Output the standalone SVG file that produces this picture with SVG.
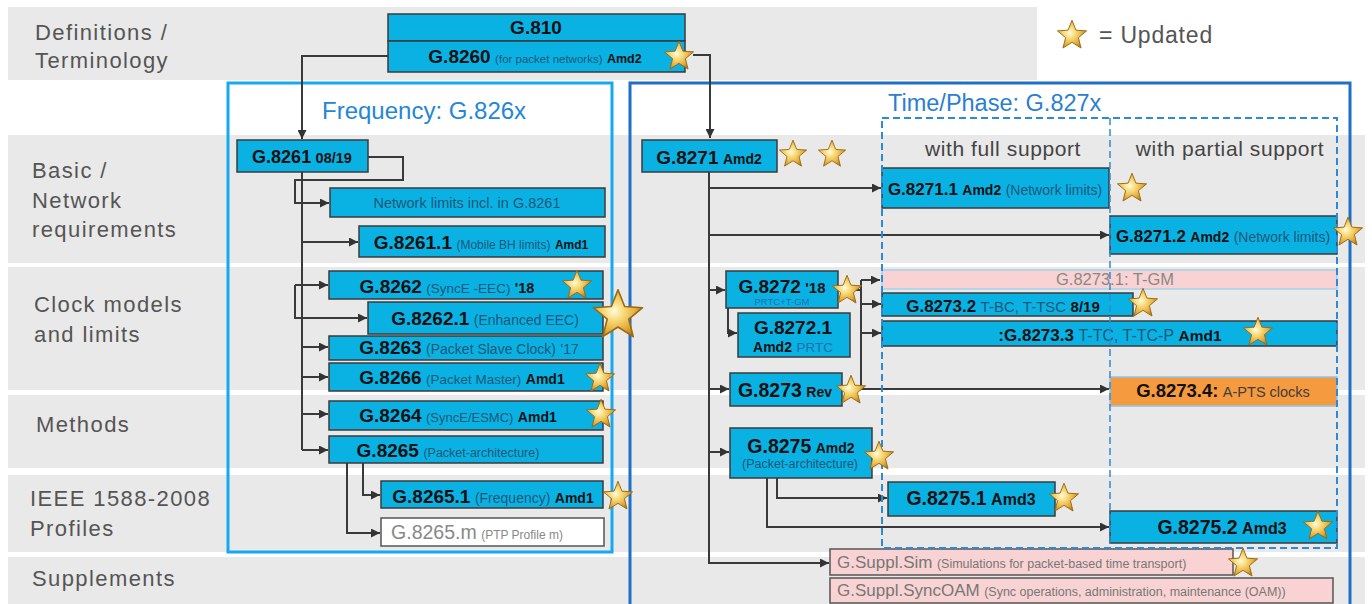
<svg xmlns="http://www.w3.org/2000/svg" width="1372" height="604" viewBox="0 0 1372 604">
  <defs>
    <radialGradient id="gold" cx="42%" cy="45%" r="60%">
      <stop offset="0" stop-color="#fffbe0"/>
      <stop offset="0.35" stop-color="#f8d977"/>
      <stop offset="0.75" stop-color="#e3a937"/>
      <stop offset="1" stop-color="#b07a17"/>
    </radialGradient>
    <symbol id="star" viewBox="-50 -50 100 100" overflow="visible">
      <path transform="translate(0,5)" d="M0,-48 L12.3,-17 L45.6,-14.8 L20,6.5 L28.2,38.8 L0,21 L-28.2,38.8 L-20,6.5 L-45.6,-14.8 L-12.3,-17 Z" fill="url(#gold)" stroke="#9a6a12" stroke-width="3" stroke-linejoin="round"/>
    </symbol>
    <marker id="ah" viewBox="0 0 10 10" refX="10" refY="5" markerWidth="10" markerHeight="9" markerUnits="userSpaceOnUse" orient="auto">
      <path d="M0,0 L10,5 L0,10 z" fill="#333"/>
    </marker>
  </defs>
  <style>
    .band{fill:#e9e9e9}
    .lbl{font-family:"Liberation Sans",Arial,sans-serif;font-size:22px;fill:#555;letter-spacing:1.4px}
    .n{fill:#0ab1e3;stroke:#3b3b3b;stroke-width:1.5}
    .pk{fill:#f9d3d3;stroke:#555;stroke-width:1.5}
    .t{font-family:"Liberation Sans",Arial,sans-serif;fill:#111;text-anchor:middle}
    .ts{font-family:"Liberation Sans",Arial,sans-serif;fill:#777}
    .b{font-weight:bold}
    .p{fill:#1d5878}
    .g{fill:#888}
    .bl{fill:#1f6fb0}
    .c{fill:none;stroke:#3a3a3a;stroke-width:2}
    .a{marker-end:url(#ah)}
    .dash{fill:none;stroke:#2f8ad6;stroke-width:2;stroke-dasharray:7 4}
  </style>

  <rect width="1372" height="604" fill="#fff"/>

  <!-- row bands -->
  <g id="rows">
    <rect class="band" x="8" y="7" width="1029" height="73"/>
    <rect class="band" x="8" y="135" width="1357" height="128"/>
    <rect class="band" x="8" y="267" width="1357" height="123"/>
    <rect class="band" x="8" y="395" width="1357" height="73"/>
    <rect class="band" x="8" y="475" width="1357" height="77"/>
    <rect class="band" x="8" y="557" width="1357" height="47"/>
    <text class="lbl" x="35" y="40">Definitions /</text>
    <text class="lbl" x="35" y="68">Terminology</text>
    <text class="lbl" x="32" y="178">Basic /</text>
    <text class="lbl" x="32" y="208">Network</text>
    <text class="lbl" x="32" y="237">requirements</text>
    <text class="lbl" x="34" y="312">Clock models</text>
    <text class="lbl" x="34" y="342">and limits</text>
    <text class="lbl" x="36" y="432">Methods</text>
    <text class="lbl" x="30" y="506">IEEE 1588-2008</text>
    <text class="lbl" x="30" y="536">Profiles</text>
    <text class="lbl" x="32" y="586">Supplements</text>
  </g>

  <!-- legend -->
  <g id="legend">
    <text class="lbl" x="1099" y="43" style="font-size:23px;letter-spacing:0.8px">= Updated</text>
  </g>

  <!-- section frames -->
  <g id="frequency-frame">
    <rect x="228" y="83" width="384" height="469" fill="none" stroke="#16a9ef" stroke-width="3"/>
    <text x="322" y="119" font-family="Liberation Sans, Arial, sans-serif" font-size="24" fill="#2586d6">Frequency: G.826x</text>
  </g>
  <g id="time-frame">
    <rect x="630" y="83" width="720" height="540" fill="none" stroke="#1f6fc8" stroke-width="3"/>
    <text x="888" y="111" font-family="Liberation Sans, Arial, sans-serif" font-size="23.5" fill="#2a7fd0">Time/Phase: G.827x</text>
    <text x="1003" y="156" font-family="Liberation Sans, Arial, sans-serif" font-size="21" fill="#444" text-anchor="middle" letter-spacing="0.6">with full support</text>
    <text x="1230" y="156" font-family="Liberation Sans, Arial, sans-serif" font-size="21" fill="#444" text-anchor="middle" letter-spacing="0.6">with partial support</text>
  </g>

  <!-- connectors -->
  <g id="connectors">
    <path class="c a" d="M388,56 H302 V139"/>
    <path class="c a" d="M693,55 H710 V138"/>
    <!-- frequency tree -->
    <path class="c" d="M302,172 V450"/>
    <path class="c a" d="M368,157 H403 V180 H295 V203 H329"/>
    <path class="c a" d="M302,242 H358"/>
    <path class="c a" d="M295,285 H328"/>
    <path class="c a" d="M295,285 V318 H367"/>
    <path class="c a" d="M302,347 H328"/>
    <path class="c a" d="M302,377 H328"/>
    <path class="c a" d="M302,414 H328"/>
    <path class="c a" d="M302,450 H328"/>
    <path class="c a" d="M363,463 V495 H380"/>
    <path class="c a" d="M347,463 V533 H380"/>
    <!-- time/phase tree -->
    <path class="c a" d="M709,172 V563 H829"/>
    <path class="c a" d="M709,188 H881"/>
    <path class="c a" d="M709,235 H1109"/>
    <path class="c a" d="M709,290 H725"/>
    <path class="c a" d="M709,389 H729"/>
    <path class="c a" d="M709,452 H729"/>
    <path class="c a" d="M728,308 V333 H737"/>
    <path class="c" d="M838,290 H861 M861,280 V389"/>
    <path class="c a" d="M861,280 H880"/>
    <path class="c a" d="M861,304 H881"/>
    <path class="c a" d="M861,333 H881"/>
    <path class="c a" d="M843,389 H1109"/>
    <path class="c a" d="M777,478 V498 H887"/>
    <path class="c a" d="M767,478 V527 H1109"/>
  </g>

  <!-- definitions -->
  <g id="n-g810">
    <rect class="n" x="388" y="14" width="297" height="27"/>
    <text class="t b" x="536" y="34" font-size="19">G.810</text>
  </g>
  <g id="n-g8260">
    <rect class="n" x="388" y="41" width="297" height="31"/>
    <text class="t" x="535" y="63"><tspan class="b" font-size="19">G.8260</tspan> <tspan class="p" font-size="11.5">(for packet networks)</tspan> <tspan class="b" font-size="12.5">Amd2</tspan></text>
  </g>

  <!-- frequency nodes -->
  <g id="n-g8261">
    <rect class="n" x="237" y="140" width="131" height="32"/>
    <text class="t" x="302" y="163"><tspan class="b" font-size="18">G.8261</tspan> <tspan class="b" font-size="14.5">08/19</tspan></text>
  </g>
  <g id="n-netlimits">
    <rect class="n" x="330" y="188" width="275" height="29"/>
    <text class="t p" x="467" y="208" font-size="14.5">Network limits incl. in G.8261</text>
  </g>
  <g id="n-g8261-1">
    <rect class="n" x="359" y="226" width="246" height="31"/>
    <text class="t" x="481" y="249"><tspan class="b" font-size="19">G.8261.1</tspan> <tspan class="p" font-size="12">(Mobile BH limits)</tspan> <tspan class="b" font-size="12">Amd1</tspan></text>
  </g>
  <g id="n-g8262">
    <rect class="n" x="329" y="271" width="274" height="28"/>
    <text class="t" x="447" y="293"><tspan class="b" font-size="19">G.8262</tspan> <tspan class="p" font-size="13.5">(SyncE -EEC)</tspan> <tspan class="b" font-size="14.5">'18</tspan></text>
  </g>
  <g id="n-g8262-1">
    <rect class="n" x="368" y="302" width="235" height="32"/>
    <text class="t" x="485" y="325"><tspan class="b" font-size="19">G.8262.1</tspan> <tspan class="p" font-size="14">(Enhanced EEC)</tspan></text>
  </g>
  <g id="n-g8263">
    <rect class="n" x="329" y="336" width="274" height="24"/>
    <text class="t" x="469" y="354"><tspan class="b" font-size="19">G.8263</tspan> <tspan class="p" font-size="14">(Packet Slave Clock)</tspan> <tspan class="p" font-size="14">'17</tspan></text>
  </g>
  <g id="n-g8266">
    <rect class="n" x="329" y="363" width="274" height="28"/>
    <text class="t" x="462" y="384"><tspan class="b" font-size="19">G.8266</tspan> <tspan class="p" font-size="13.5">(Packet Master)</tspan> <tspan class="b" font-size="14">Amd1</tspan></text>
  </g>
  <g id="n-g8264">
    <rect class="n" x="329" y="401" width="274" height="29"/>
    <text class="t" x="458" y="422"><tspan class="b" font-size="19">G.8264</tspan> <tspan class="p" font-size="13">(SyncE/ESMC)</tspan> <tspan class="b" font-size="14">Amd1</tspan></text>
  </g>
  <g id="n-g8265">
    <rect class="n" x="329" y="436" width="274" height="27"/>
    <text class="t" x="448" y="457"><tspan class="b" font-size="19">G.8265</tspan> <tspan class="p" font-size="12.5">(Packet-architecture)</tspan></text>
  </g>
  <g id="n-g8265-1">
    <rect class="n" x="381" y="481" width="222" height="27"/>
    <text class="t" x="493" y="503"><tspan class="b" font-size="19">G.8265.1</tspan> <tspan class="p" font-size="14">(Frequency)</tspan> <tspan class="b" font-size="14">Amd1</tspan></text>
  </g>
  <g id="n-g8265-m">
    <rect x="381" y="518" width="223" height="28" fill="#fff" stroke="#555" stroke-width="1.5"/>
    <text class="t g" x="477" y="539"><tspan font-size="19.5">G.8265.m</tspan> <tspan font-size="12">(PTP Profile m)</tspan></text>
  </g>

  <!-- time / phase nodes -->
  <g id="n-g8271">
    <rect class="n" x="642" y="140" width="135" height="32"/>
    <text class="t" x="709" y="164"><tspan class="b" font-size="19">G.8271</tspan> <tspan class="b" font-size="14">Amd2</tspan></text>
  </g>
  <g id="n-g8271-1">
    <rect class="n" x="882" y="168" width="227" height="40"/>
    <text class="t" x="995" y="195"><tspan class="b" font-size="17">G.8271.1</tspan> <tspan class="b" font-size="14">Amd2</tspan> <tspan class="p" font-size="14">(Network limits)</tspan></text>
  </g>
  <g id="n-g8271-2">
    <rect class="n" x="1110" y="216" width="227" height="38"/>
    <text class="t" x="1223" y="242"><tspan class="b" font-size="17">G.8271.2</tspan> <tspan class="b" font-size="14">Amd2</tspan> <tspan class="p" font-size="14">(Network limits)</tspan></text>
  </g>
  <g id="n-g8272">
    <rect class="n" x="726" y="271" width="112" height="37"/>
    <text class="t" x="782" y="293"><tspan class="b" font-size="19">G.8272</tspan> <tspan class="b" font-size="15">'18</tspan></text>
    <text class="t bl" x="782" y="305" font-size="9.5">PRTC+T-GM</text>
  </g>
  <g id="n-g8272-1">
    <rect class="n" x="738" y="313" width="112" height="44"/>
    <text class="t b" x="793" y="334" font-size="19">G.8272.1</text>
    <text class="t" x="793" y="352"><tspan class="b" font-size="14">Amd2</tspan> <tspan class="bl" font-size="13.5">PRTC</tspan></text>
  </g>
  <g id="n-g8273-1">
    <rect x="882" y="270" width="455" height="19" fill="#f9d3d3" stroke="#a8d0ea" stroke-width="1.5"/>
    <text class="t g" x="1115" y="285" font-size="16.5">G.8273.1: T-GM</text>
  </g>
  <g id="n-g8273-2">
    <rect class="n" x="882" y="293" width="251" height="23"/>
    <text class="t" x="1003" y="312"><tspan class="b" font-size="17">G.8273.2</tspan> <tspan class="p" font-size="15">T-BC, T-TSC</tspan> <tspan class="b" font-size="15">8/19</tspan></text>
  </g>
  <g id="n-g8273-3">
    <rect class="n" x="882" y="321" width="455" height="25"/>
    <text class="t" x="1110" y="341"><tspan class="b" font-size="17">:G.8273.3</tspan> <tspan class="p" font-size="16">T-TC, T-TC-P</tspan> <tspan class="b" font-size="15.5">Amd1</tspan></text>
  </g>
  <g id="n-g8273">
    <rect class="n" x="730" y="373" width="112" height="33"/>
    <text class="t" x="785" y="397"><tspan class="b" font-size="19.5">G.8273</tspan> <tspan class="b" font-size="14">Rev</tspan></text>
  </g>
  <g id="n-g8273-4">
    <rect x="1110" y="377" width="227" height="29" fill="#f59a3e" stroke="#8cc4ea" stroke-width="1.5"/>
    <text class="t" x="1223" y="397"><tspan class="b" font-size="18.5">G.8273.4:</tspan> <tspan font-size="14.5" style="fill:#3d3d3d">A-PTS clocks</tspan></text>
  </g>
  <g id="n-g8275">
    <rect class="n" x="730" y="428" width="142" height="50"/>
    <text class="t" x="801" y="453"><tspan class="b" font-size="19.5">G.8275</tspan> <tspan class="b" font-size="14">Amd2</tspan></text>
    <text class="t p" x="800" y="468" font-size="12.5">(Packet-architecture)</text>
  </g>
  <g id="n-g8275-1">
    <rect class="n" x="888" y="482" width="167" height="34"/>
    <text class="t" x="971" y="505"><tspan class="b" font-size="19.5">G.8275.1</tspan> <tspan class="b" font-size="16">Amd3</tspan></text>
  </g>
  <g id="n-g8275-2">
    <rect class="n" x="1110" y="511" width="227" height="32"/>
    <text class="t" x="1222" y="534"><tspan class="b" font-size="19.5">G.8275.2</tspan> <tspan class="b" font-size="16">Amd3</tspan></text>
  </g>

  <!-- supplements -->
  <g id="n-suppl-sim">
    <rect class="pk" x="830" y="549" width="403" height="26"/>
    <text class="ts" x="837" y="568"><tspan font-size="17">G.Suppl.Sim</tspan> <tspan font-size="12.5">(Simulations for packet-based time transport)</tspan></text>
  </g>
  <g id="n-suppl-oam">
    <rect class="pk" x="830" y="578" width="503" height="25"/>
    <text class="ts" x="837" y="596"><tspan font-size="17">G.Suppl.SyncOAM</tspan> <tspan font-size="12.5">(Sync operations, administration, maintenance (OAM))</tspan></text>
  </g>

  <!-- support columns -->
  <g id="support-columns">
    <rect class="dash" x="882" y="118" width="455" height="430"/>
    <line class="dash" x1="1110" y1="118" x2="1110" y2="548" style="stroke-width:1.5"/>
  </g>

  <!-- update markers -->
  <g id="updated-stars">
    <use href="#star" x="1056" y="18" width="32" height="32"/>
    <use href="#star" x="663" y="39" width="32" height="32"/>
    <use href="#star" x="561" y="268" width="32" height="32"/>
    <use href="#star" x="591" y="286" width="54" height="54"/>
    <use href="#star" x="584" y="361" width="32" height="32"/>
    <use href="#star" x="585" y="397" width="32" height="32"/>
    <use href="#star" x="602" y="479" width="32" height="32"/>
    <use href="#star" x="778" y="138" width="30" height="30"/>
    <use href="#star" x="817" y="138" width="30" height="30"/>
    <use href="#star" x="1116" y="171" width="32" height="32"/>
    <use href="#star" x="1332" y="215" width="32" height="32"/>
    <use href="#star" x="831" y="273" width="32" height="32"/>
    <use href="#star" x="1127" y="286" width="32" height="32"/>
    <use href="#star" x="1242" y="315" width="32" height="32"/>
    <use href="#star" x="835" y="373" width="32" height="32"/>
    <use href="#star" x="863" y="439" width="32" height="32"/>
    <use href="#star" x="1048" y="481" width="32" height="32"/>
    <use href="#star" x="1302" y="509" width="32" height="32"/>
    <use href="#star" x="1227" y="546" width="32" height="32"/>
  </g>
</svg>
